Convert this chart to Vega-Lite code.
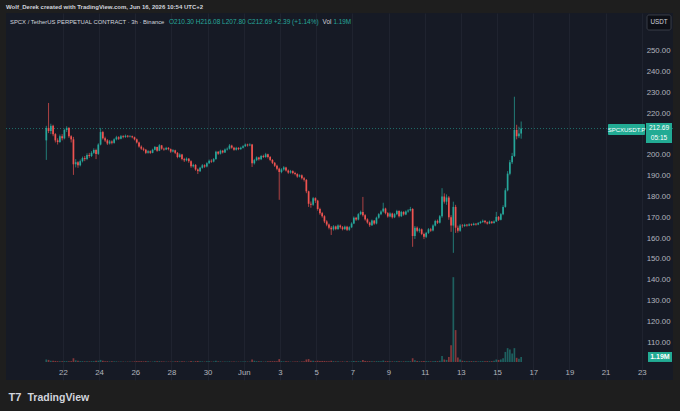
{
  "$schema": "https://vega.github.io/schema/vega-lite/v6.json",
  "autosize": {"type": "none"},
  "width": 667,
  "height": 367,
  "padding": {"left": 6, "top": 13, "right": 7, "bottom": 31},
  "background": "#1e1e1e",
  "config": {
    "view": {"fill": "#161a25", "stroke": null},
    "font": "Liberation Sans",
    "axis": {"grid": true, "gridColor": "#232734", "domain": false, "ticks": false, "tickSize": 0, "labelColor": "#b2b5be", "labelFontSize": 7.8, "labelFlush": false, "labelOverlap": false},
    "axisX": {"labelPadding": -8, "labelBaseline": "middle", "gridColor": "#1f232f"},
    "axisY": {"labelAlign": "right", "labelPadding": -3, "labelBaseline": "middle"}
  },
  "title": {"text": "Wolf_Derek created with TradingView.com, Jun 16, 2026 10:54 UTC+2", "anchor": "start", "frame": "group", "fontSize": 6, "fontWeight": "bold", "color": "#d1d4dc", "offset": 3},
  "data": {"values": [
    {"t":"2026-05-21T02:00Z","o":207,"h":214,"l":197.6,"c":213,"v":0.6},
    {"t":"2026-05-21T05:00Z","o":213,"h":225,"l":210.5,"c":211.5,"v":0.5},
    {"t":"2026-05-21T08:00Z","o":211.5,"h":215,"l":210,"c":214,"v":0.3},
    {"t":"2026-05-21T11:00Z","o":214,"h":214.5,"l":209,"c":210,"v":0.3},
    {"t":"2026-05-21T14:00Z","o":210,"h":210.5,"l":206,"c":207,"v":0.25},
    {"t":"2026-05-21T17:00Z","o":207,"h":208,"l":205,"c":206.2,"v":0.2},
    {"t":"2026-05-21T20:00Z","o":206.2,"h":209.8,"l":205.8,"c":209,"v":0.2},
    {"t":"2026-05-21T23:00Z","o":209,"h":210,"l":207,"c":208,"v":0.15},
    {"t":"2026-05-22T02:00Z","o":208,"h":212.6,"l":207.5,"c":212,"v":0.2},
    {"t":"2026-05-22T05:00Z","o":212,"h":213.8,"l":211,"c":213,"v":0.2},
    {"t":"2026-05-22T08:00Z","o":213,"h":213.4,"l":208.2,"c":209,"v":0.2},
    {"t":"2026-05-22T11:00Z","o":209,"h":209.5,"l":206,"c":207.5,"v":0.2},
    {"t":"2026-05-22T14:00Z","o":207.5,"h":208.7,"l":190.4,"c":195.5,"v":0.9},
    {"t":"2026-05-22T17:00Z","o":195.5,"h":198,"l":194,"c":196.5,"v":0.4},
    {"t":"2026-05-22T20:00Z","o":196.5,"h":197,"l":193.8,"c":195,"v":0.3},
    {"t":"2026-05-22T23:00Z","o":195,"h":197.8,"l":194.5,"c":197,"v":0.2},
    {"t":"2026-05-23T02:00Z","o":197,"h":199.2,"l":196.4,"c":198.5,"v":0.2},
    {"t":"2026-05-23T05:00Z","o":198.5,"h":199.5,"l":197,"c":198,"v":0.15},
    {"t":"2026-05-23T08:00Z","o":198,"h":200.8,"l":197.5,"c":200,"v":0.15},
    {"t":"2026-05-23T11:00Z","o":200,"h":201,"l":198.6,"c":199.5,"v":0.15},
    {"t":"2026-05-23T14:00Z","o":199.5,"h":201.8,"l":199,"c":201,"v":0.2},
    {"t":"2026-05-23T17:00Z","o":201,"h":203.2,"l":200.5,"c":202.4,"v":0.2},
    {"t":"2026-05-23T20:00Z","o":202.4,"h":203,"l":198,"c":200.5,"v":0.3},
    {"t":"2026-05-23T23:00Z","o":200.5,"h":205.6,"l":200,"c":205,"v":0.3},
    {"t":"2026-05-24T02:00Z","o":205,"h":213,"l":204.6,"c":211,"v":0.5},
    {"t":"2026-05-24T05:00Z","o":211,"h":211.6,"l":207.4,"c":208,"v":0.3},
    {"t":"2026-05-24T08:00Z","o":208,"h":208.8,"l":206.2,"c":207,"v":0.2},
    {"t":"2026-05-24T11:00Z","o":207,"h":207.6,"l":204.8,"c":205.5,"v":0.2},
    {"t":"2026-05-24T14:00Z","o":205.5,"h":207.2,"l":205,"c":206.5,"v":0.15},
    {"t":"2026-05-24T17:00Z","o":206.5,"h":207,"l":205.1,"c":205.8,"v":0.15},
    {"t":"2026-05-24T20:00Z","o":205.8,"h":208,"l":205.4,"c":207.5,"v":0.15},
    {"t":"2026-05-24T23:00Z","o":207.5,"h":209.2,"l":207,"c":208.5,"v":0.15},
    {"t":"2026-05-25T02:00Z","o":208.5,"h":209,"l":207.2,"c":207.8,"v":0.1},
    {"t":"2026-05-25T05:00Z","o":207.8,"h":209.6,"l":207.5,"c":209,"v":0.1},
    {"t":"2026-05-25T08:00Z","o":209,"h":209.5,"l":208,"c":208.6,"v":0.1},
    {"t":"2026-05-25T11:00Z","o":208.6,"h":209.8,"l":208.2,"c":209.2,"v":0.1},
    {"t":"2026-05-25T14:00Z","o":209.2,"h":209.6,"l":208.3,"c":208.8,"v":0.1},
    {"t":"2026-05-25T17:00Z","o":208.8,"h":209.5,"l":208.4,"c":209,"v":0.1},
    {"t":"2026-05-25T20:00Z","o":209,"h":209.3,"l":208,"c":208.5,"v":0.1},
    {"t":"2026-05-25T23:00Z","o":208.5,"h":208.8,"l":207,"c":207.5,"v":0.15},
    {"t":"2026-05-26T02:00Z","o":207.5,"h":207.9,"l":205.5,"c":206,"v":0.2},
    {"t":"2026-05-26T05:00Z","o":206,"h":206.4,"l":203.5,"c":204,"v":0.2},
    {"t":"2026-05-26T08:00Z","o":204,"h":204.6,"l":202.4,"c":203,"v":0.2},
    {"t":"2026-05-26T11:00Z","o":203,"h":203.6,"l":201.8,"c":202.5,"v":0.15},
    {"t":"2026-05-26T14:00Z","o":202.5,"h":202.9,"l":200.4,"c":201,"v":0.2},
    {"t":"2026-05-26T17:00Z","o":201,"h":202.3,"l":200.6,"c":201.8,"v":0.15},
    {"t":"2026-05-26T20:00Z","o":201.8,"h":202.2,"l":200.5,"c":201,"v":0.1},
    {"t":"2026-05-26T23:00Z","o":201,"h":203,"l":200.8,"c":202.5,"v":0.1},
    {"t":"2026-05-27T02:00Z","o":202.5,"h":204.3,"l":202.2,"c":203.8,"v":0.15},
    {"t":"2026-05-27T05:00Z","o":203.8,"h":204,"l":201.5,"c":202,"v":0.15},
    {"t":"2026-05-27T08:00Z","o":202,"h":205.2,"l":201.8,"c":204.6,"v":0.2},
    {"t":"2026-05-27T11:00Z","o":204.6,"h":204.8,"l":202.5,"c":203,"v":0.15},
    {"t":"2026-05-27T14:00Z","o":203,"h":203.5,"l":202,"c":202.6,"v":0.1},
    {"t":"2026-05-27T17:00Z","o":202.6,"h":203.9,"l":202.3,"c":203.4,"v":0.1},
    {"t":"2026-05-27T20:00Z","o":203.4,"h":203.8,"l":202.2,"c":202.8,"v":0.1},
    {"t":"2026-05-27T23:00Z","o":202.8,"h":203.1,"l":201,"c":201.6,"v":0.1},
    {"t":"2026-05-28T02:00Z","o":201.6,"h":202.8,"l":201.2,"c":202.2,"v":0.1},
    {"t":"2026-05-28T05:00Z","o":202.2,"h":202.5,"l":200.4,"c":201,"v":0.15},
    {"t":"2026-05-28T08:00Z","o":201,"h":201.4,"l":198.4,"c":199,"v":0.2},
    {"t":"2026-05-28T11:00Z","o":199,"h":200.8,"l":198.6,"c":200.2,"v":0.15},
    {"t":"2026-05-28T14:00Z","o":200.2,"h":200.5,"l":197.4,"c":198,"v":0.2},
    {"t":"2026-05-28T17:00Z","o":198,"h":198.6,"l":196.6,"c":197.4,"v":0.15},
    {"t":"2026-05-28T20:00Z","o":197.4,"h":198.8,"l":196.9,"c":198.2,"v":0.1},
    {"t":"2026-05-28T23:00Z","o":198.2,"h":198.5,"l":196.2,"c":197,"v":0.1},
    {"t":"2026-05-29T02:00Z","o":197,"h":197.4,"l":193.8,"c":194.5,"v":0.25},
    {"t":"2026-05-29T05:00Z","o":194.5,"h":195.8,"l":193.9,"c":195.2,"v":0.15},
    {"t":"2026-05-29T08:00Z","o":195.2,"h":195.6,"l":192.4,"c":193,"v":0.2},
    {"t":"2026-05-29T11:00Z","o":193,"h":193.5,"l":190.8,"c":192.2,"v":0.25},
    {"t":"2026-05-29T14:00Z","o":192.2,"h":194.3,"l":191.8,"c":193.8,"v":0.2},
    {"t":"2026-05-29T17:00Z","o":193.8,"h":195.6,"l":193.4,"c":195,"v":0.15},
    {"t":"2026-05-29T20:00Z","o":195,"h":195.5,"l":193.8,"c":194.4,"v":0.1},
    {"t":"2026-05-29T23:00Z","o":194.4,"h":196.5,"l":194,"c":196,"v":0.15},
    {"t":"2026-05-30T02:00Z","o":196,"h":197.8,"l":195.6,"c":197.2,"v":0.15},
    {"t":"2026-05-30T05:00Z","o":197.2,"h":197.9,"l":196.2,"c":196.8,"v":0.1},
    {"t":"2026-05-30T08:00Z","o":196.8,"h":198.5,"l":196.4,"c":198,"v":0.15},
    {"t":"2026-05-30T11:00Z","o":198,"h":202,"l":197.6,"c":201.5,"v":0.3},
    {"t":"2026-05-30T14:00Z","o":201.5,"h":201.9,"l":200,"c":200.6,"v":0.15},
    {"t":"2026-05-30T17:00Z","o":200.6,"h":202.5,"l":200.2,"c":202,"v":0.15},
    {"t":"2026-05-30T20:00Z","o":202,"h":202.4,"l":200.7,"c":201.2,"v":0.1},
    {"t":"2026-05-30T23:00Z","o":201.2,"h":203.1,"l":200.9,"c":202.6,"v":0.1},
    {"t":"2026-05-31T02:00Z","o":202.6,"h":203.6,"l":202.1,"c":203,"v":0.1},
    {"t":"2026-05-31T05:00Z","o":203,"h":205.2,"l":202.6,"c":204.5,"v":0.15},
    {"t":"2026-05-31T08:00Z","o":204.5,"h":204.9,"l":203,"c":203.5,"v":0.1},
    {"t":"2026-05-31T11:00Z","o":203.5,"h":203.9,"l":202,"c":202.5,"v":0.1},
    {"t":"2026-05-31T14:00Z","o":202.5,"h":203.9,"l":202.1,"c":203.4,"v":0.1},
    {"t":"2026-05-31T17:00Z","o":203.4,"h":203.7,"l":202.3,"c":202.8,"v":0.1},
    {"t":"2026-05-31T20:00Z","o":202.8,"h":204,"l":202.4,"c":203.5,"v":0.1},
    {"t":"2026-05-31T23:00Z","o":203.5,"h":204.7,"l":203.1,"c":204.2,"v":0.1},
    {"t":"2026-06-01T02:00Z","o":204.2,"h":205.5,"l":203.8,"c":205,"v":0.15},
    {"t":"2026-06-01T05:00Z","o":205,"h":205.4,"l":204,"c":204.6,"v":0.1},
    {"t":"2026-06-01T08:00Z","o":204.6,"h":205.6,"l":204.2,"c":205,"v":0.1},
    {"t":"2026-06-01T11:00Z","o":205,"h":205.3,"l":194.2,"c":196,"v":0.6},
    {"t":"2026-06-01T14:00Z","o":196,"h":198.1,"l":195.4,"c":197.5,"v":0.3},
    {"t":"2026-06-01T17:00Z","o":197.5,"h":199.3,"l":197,"c":198.8,"v":0.2},
    {"t":"2026-06-01T20:00Z","o":198.8,"h":199.1,"l":197.3,"c":197.9,"v":0.15},
    {"t":"2026-06-01T23:00Z","o":197.9,"h":200,"l":197.5,"c":199.5,"v":0.15},
    {"t":"2026-06-02T02:00Z","o":199.5,"h":200.1,"l":198.5,"c":199,"v":0.1},
    {"t":"2026-06-02T05:00Z","o":199,"h":201,"l":198.6,"c":200.3,"v":0.15},
    {"t":"2026-06-02T08:00Z","o":200.3,"h":200.6,"l":198.3,"c":199,"v":0.15},
    {"t":"2026-06-02T11:00Z","o":199,"h":199.5,"l":197,"c":197.6,"v":0.2},
    {"t":"2026-06-02T14:00Z","o":197.6,"h":198,"l":195.6,"c":196.2,"v":0.2},
    {"t":"2026-06-02T17:00Z","o":196.2,"h":196.6,"l":194.2,"c":194.8,"v":0.2},
    {"t":"2026-06-02T20:00Z","o":194.8,"h":195.3,"l":192.6,"c":193.4,"v":0.2},
    {"t":"2026-06-02T23:00Z","o":193.4,"h":193.9,"l":178.4,"c":191.8,"v":0.7},
    {"t":"2026-06-03T02:00Z","o":191.8,"h":193.6,"l":191.2,"c":193,"v":0.2},
    {"t":"2026-06-03T05:00Z","o":193,"h":194.6,"l":192.4,"c":194,"v":0.15},
    {"t":"2026-06-03T08:00Z","o":194,"h":194.3,"l":192,"c":192.5,"v":0.15},
    {"t":"2026-06-03T11:00Z","o":192.5,"h":193,"l":190.9,"c":191.5,"v":0.15},
    {"t":"2026-06-03T14:00Z","o":191.5,"h":192.8,"l":191,"c":192.2,"v":0.1},
    {"t":"2026-06-03T17:00Z","o":192.2,"h":192.6,"l":190.7,"c":191.3,"v":0.1},
    {"t":"2026-06-03T20:00Z","o":191.3,"h":191.9,"l":190.2,"c":190.8,"v":0.1},
    {"t":"2026-06-03T23:00Z","o":190.8,"h":191.2,"l":189,"c":189.6,"v":0.15},
    {"t":"2026-06-04T02:00Z","o":189.6,"h":190.7,"l":189.2,"c":190.2,"v":0.1},
    {"t":"2026-06-04T05:00Z","o":190.2,"h":190.6,"l":188.2,"c":188.8,"v":0.15},
    {"t":"2026-06-04T08:00Z","o":188.8,"h":189.4,"l":187.2,"c":188,"v":0.2},
    {"t":"2026-06-04T11:00Z","o":188,"h":188.4,"l":181.6,"c":182.5,"v":0.6},
    {"t":"2026-06-04T14:00Z","o":182.5,"h":182.8,"l":175,"c":176.5,"v":0.7},
    {"t":"2026-06-04T17:00Z","o":176.5,"h":177.6,"l":174.6,"c":176,"v":0.3},
    {"t":"2026-06-04T20:00Z","o":176,"h":179.8,"l":175.5,"c":179.2,"v":0.3},
    {"t":"2026-06-04T23:00Z","o":179.2,"h":179.6,"l":176.9,"c":178,"v":0.2},
    {"t":"2026-06-05T02:00Z","o":178,"h":178.4,"l":173.2,"c":174,"v":0.3},
    {"t":"2026-06-05T05:00Z","o":174,"h":174.6,"l":171.2,"c":172,"v":0.25},
    {"t":"2026-06-05T08:00Z","o":172,"h":172.6,"l":169.8,"c":170.5,"v":0.25},
    {"t":"2026-06-05T11:00Z","o":170.5,"h":171,"l":167.2,"c":168,"v":0.25},
    {"t":"2026-06-05T14:00Z","o":168,"h":168.6,"l":165.7,"c":166.5,"v":0.2},
    {"t":"2026-06-05T17:00Z","o":166.5,"h":167,"l":164.2,"c":165,"v":0.2},
    {"t":"2026-06-05T20:00Z","o":165,"h":165.8,"l":161.5,"c":164.2,"v":0.3},
    {"t":"2026-06-05T23:00Z","o":164.2,"h":166.2,"l":163.6,"c":165.6,"v":0.2},
    {"t":"2026-06-06T02:00Z","o":165.6,"h":166,"l":163.8,"c":164.4,"v":0.15},
    {"t":"2026-06-06T05:00Z","o":164.4,"h":166.6,"l":163.9,"c":166,"v":0.15},
    {"t":"2026-06-06T08:00Z","o":166,"h":166.5,"l":164.5,"c":165.2,"v":0.1},
    {"t":"2026-06-06T11:00Z","o":165.2,"h":165.8,"l":163.7,"c":164.3,"v":0.15},
    {"t":"2026-06-06T14:00Z","o":164.3,"h":166,"l":163.9,"c":165.5,"v":0.1},
    {"t":"2026-06-06T17:00Z","o":165.5,"h":165.9,"l":163.4,"c":164,"v":0.15},
    {"t":"2026-06-06T20:00Z","o":164,"h":165.7,"l":163.5,"c":165.2,"v":0.1},
    {"t":"2026-06-06T23:00Z","o":165.2,"h":167.6,"l":164.8,"c":167,"v":0.15},
    {"t":"2026-06-07T02:00Z","o":167,"h":170.4,"l":166.7,"c":169.8,"v":0.25},
    {"t":"2026-06-07T05:00Z","o":169.8,"h":170.2,"l":168.3,"c":168.9,"v":0.15},
    {"t":"2026-06-07T08:00Z","o":168.9,"h":172,"l":168.5,"c":171.5,"v":0.2},
    {"t":"2026-06-07T11:00Z","o":171.5,"h":173.2,"l":171,"c":172.6,"v":0.2},
    {"t":"2026-06-07T14:00Z","o":172.6,"h":179.8,"l":170.3,"c":171,"v":0.5},
    {"t":"2026-06-07T17:00Z","o":171,"h":171.5,"l":168.4,"c":169,"v":0.25},
    {"t":"2026-06-07T20:00Z","o":169,"h":169.5,"l":166.9,"c":167.5,"v":0.2},
    {"t":"2026-06-07T23:00Z","o":167.5,"h":167.9,"l":165.4,"c":166.2,"v":0.2},
    {"t":"2026-06-08T02:00Z","o":166.2,"h":168.9,"l":165.8,"c":168.4,"v":0.2},
    {"t":"2026-06-08T05:00Z","o":168.4,"h":168.7,"l":166.4,"c":167,"v":0.15},
    {"t":"2026-06-08T08:00Z","o":167,"h":170.3,"l":166.6,"c":169.8,"v":0.2},
    {"t":"2026-06-08T11:00Z","o":169.8,"h":172,"l":169.3,"c":171.5,"v":0.2},
    {"t":"2026-06-08T14:00Z","o":171.5,"h":173.4,"l":171,"c":172.8,"v":0.2},
    {"t":"2026-06-08T17:00Z","o":172.8,"h":177,"l":172.3,"c":174.2,"v":0.35},
    {"t":"2026-06-08T20:00Z","o":174.2,"h":174.6,"l":171.4,"c":172,"v":0.2},
    {"t":"2026-06-08T23:00Z","o":172,"h":172.5,"l":169.8,"c":170.4,"v":0.2},
    {"t":"2026-06-09T02:00Z","o":170.4,"h":172.4,"l":170,"c":171.8,"v":0.15},
    {"t":"2026-06-09T05:00Z","o":171.8,"h":172.2,"l":169.4,"c":170,"v":0.15},
    {"t":"2026-06-09T08:00Z","o":170,"h":172,"l":169.6,"c":171.5,"v":0.15},
    {"t":"2026-06-09T11:00Z","o":171.5,"h":173.6,"l":171,"c":173,"v":0.2},
    {"t":"2026-06-09T14:00Z","o":173,"h":173.4,"l":169.9,"c":170.5,"v":0.2},
    {"t":"2026-06-09T17:00Z","o":170.5,"h":173.1,"l":170.1,"c":172.6,"v":0.15},
    {"t":"2026-06-09T20:00Z","o":172.6,"h":172.9,"l":170.8,"c":171.4,"v":0.15},
    {"t":"2026-06-09T23:00Z","o":171.4,"h":173.3,"l":171,"c":172.8,"v":0.15},
    {"t":"2026-06-10T02:00Z","o":172.8,"h":173.9,"l":172.2,"c":173.3,"v":0.15},
    {"t":"2026-06-10T05:00Z","o":173.3,"h":175,"l":172.8,"c":174,"v":0.2},
    {"t":"2026-06-10T08:00Z","o":174,"h":174.4,"l":155.8,"c":161,"v":0.9},
    {"t":"2026-06-10T11:00Z","o":161,"h":165.8,"l":159.6,"c":165,"v":0.4},
    {"t":"2026-06-10T14:00Z","o":165,"h":165.6,"l":162.8,"c":163.5,"v":0.25},
    {"t":"2026-06-10T17:00Z","o":163.5,"h":164.9,"l":162.6,"c":164.2,"v":0.2},
    {"t":"2026-06-10T20:00Z","o":164.2,"h":164.6,"l":161.4,"c":162,"v":0.2},
    {"t":"2026-06-10T23:00Z","o":162,"h":162.6,"l":159.5,"c":160.6,"v":0.25},
    {"t":"2026-06-11T02:00Z","o":160.6,"h":163,"l":160,"c":162.5,"v":0.2},
    {"t":"2026-06-11T05:00Z","o":162.5,"h":164.8,"l":162,"c":164.2,"v":0.2},
    {"t":"2026-06-11T08:00Z","o":164.2,"h":164.9,"l":163,"c":163.6,"v":0.15},
    {"t":"2026-06-11T11:00Z","o":163.6,"h":166.6,"l":163.2,"c":166,"v":0.2},
    {"t":"2026-06-11T14:00Z","o":166,"h":168.8,"l":165.6,"c":168.2,"v":0.25},
    {"t":"2026-06-11T17:00Z","o":168.2,"h":168.9,"l":166.8,"c":167.4,"v":0.2},
    {"t":"2026-06-11T20:00Z","o":167.4,"h":171.1,"l":167,"c":170.5,"v":0.3},
    {"t":"2026-06-11T23:00Z","o":170.5,"h":184,"l":169.8,"c":180,"v":1.4},
    {"t":"2026-06-12T02:00Z","o":180,"h":181.5,"l":176.6,"c":177.5,"v":0.6},
    {"t":"2026-06-12T05:00Z","o":177.5,"h":181,"l":176,"c":179.5,"v":0.5},
    {"t":"2026-06-12T08:00Z","o":179.5,"h":180.2,"l":168.8,"c":170,"v":1.2},
    {"t":"2026-06-12T11:00Z","o":170,"h":171,"l":163,"c":166,"v":4.0},
    {"t":"2026-06-12T14:00Z","o":166,"h":177.5,"l":152.9,"c":175,"v":20.2},
    {"t":"2026-06-12T17:00Z","o":175,"h":176,"l":162.5,"c":165,"v":7.6},
    {"t":"2026-06-12T20:00Z","o":165,"h":166,"l":162.6,"c":163.5,"v":1.1},
    {"t":"2026-06-12T23:00Z","o":163.5,"h":166.8,"l":163,"c":166,"v":0.6},
    {"t":"2026-06-13T02:00Z","o":166,"h":166.7,"l":165,"c":165.8,"v":0.3},
    {"t":"2026-06-13T05:00Z","o":165.8,"h":166.9,"l":165.3,"c":166.4,"v":0.25},
    {"t":"2026-06-13T08:00Z","o":166.4,"h":166.8,"l":165.5,"c":166,"v":0.2},
    {"t":"2026-06-13T11:00Z","o":166,"h":167.1,"l":165.7,"c":166.6,"v":0.2},
    {"t":"2026-06-13T14:00Z","o":166.6,"h":167,"l":165.8,"c":166.3,"v":0.2},
    {"t":"2026-06-13T17:00Z","o":166.3,"h":167.4,"l":166,"c":166.9,"v":0.2},
    {"t":"2026-06-13T20:00Z","o":166.9,"h":167.2,"l":166,"c":166.5,"v":0.15},
    {"t":"2026-06-13T23:00Z","o":166.5,"h":167.7,"l":166.2,"c":167.2,"v":0.15},
    {"t":"2026-06-14T02:00Z","o":167.2,"h":168.3,"l":166.9,"c":167.8,"v":0.2},
    {"t":"2026-06-14T05:00Z","o":167.8,"h":168.9,"l":167.3,"c":168.3,"v":0.2},
    {"t":"2026-06-14T08:00Z","o":168.3,"h":168.6,"l":167,"c":167.6,"v":0.15},
    {"t":"2026-06-14T11:00Z","o":167.6,"h":168,"l":166.5,"c":167,"v":0.2},
    {"t":"2026-06-14T14:00Z","o":167,"h":168.4,"l":166.7,"c":167.9,"v":0.2},
    {"t":"2026-06-14T17:00Z","o":167.9,"h":168.2,"l":166.8,"c":167.3,"v":0.2},
    {"t":"2026-06-14T20:00Z","o":167.3,"h":168.5,"l":166.9,"c":168,"v":0.3},
    {"t":"2026-06-14T23:00Z","o":168,"h":172.6,"l":167.7,"c":170.2,"v":0.6},
    {"t":"2026-06-15T02:00Z","o":170.2,"h":170.6,"l":168.2,"c":168.8,"v":0.5},
    {"t":"2026-06-15T05:00Z","o":168.8,"h":172.1,"l":168.5,"c":171.5,"v":0.6},
    {"t":"2026-06-15T08:00Z","o":171.5,"h":175.8,"l":171,"c":175,"v":0.9},
    {"t":"2026-06-15T11:00Z","o":175,"h":184,"l":174.6,"c":183,"v":2.4},
    {"t":"2026-06-15T14:00Z","o":183,"h":192.2,"l":182.5,"c":191,"v":3.3},
    {"t":"2026-06-15T17:00Z","o":191,"h":197.6,"l":190.2,"c":196.5,"v":3.0},
    {"t":"2026-06-15T20:00Z","o":196.5,"h":201,"l":195.6,"c":199.5,"v":2.0},
    {"t":"2026-06-15T23:00Z","o":199.5,"h":228,"l":199,"c":212,"v":3.3},
    {"t":"2026-06-16T02:00Z","o":212,"h":214.5,"l":207.5,"c":209,"v":1.0},
    {"t":"2026-06-16T05:00Z","o":209,"h":213.6,"l":208.1,"c":210.3,"v":0.8},
    {"t":"2026-06-16T08:00Z","o":210.3,"h":216.08,"l":207.8,"c":212.69,"v":1.19}
  ]},
  "layer": [
    {
      "mark": {"type": "bar", "width": 1.7, "opacity": 0.5},
      "encoding": {
        "x": {
          "field": "t", "type": "temporal",
          "scale": {"type": "utc", "domain": [1779136260000, 1782321900000], "padding": 0},
          "axis": {
            "values": [1779408000000, 1779580800000, 1779753600000, 1779926400000, 1780099200000, 1780272000000, 1780444800000, 1780617600000, 1780790400000, 1780963200000, 1781136000000, 1781308800000, 1781481600000, 1781654400000, 1781827200000, 1782000000000, 1782172800000],
            "labelExpr": "utcdate(datum.value) == 1 ? 'Jun' : '' + utcdate(datum.value)",
            "title": "TradingView", "titleX": 21, "titleY": 17, "titleAlign": "left", "titleBaseline": "middle",
            "titleAngle": 0, "titleFontSize": 10.5, "titleFontWeight": 600, "titleColor": "#d1d4dc"
          }
        },
        "y": {"field": "v", "type": "quantitative", "scale": {"domain": [-4.286, 83.1], "nice": false, "zero": false}, "axis": null},
        "y2": {"datum": 0},
        "color": {"condition": {"test": "datum.c >= datum.o", "value": "#26a69a"}, "value": "#ef5350"}
      }
    },
    {
      "data": {"values": [{"p": 212.69}]},
      "mark": {"type": "rule", "strokeDash": [1, 2], "color": "#26a69a", "opacity": 0.6},
      "encoding": {
        "y": {"field": "p", "type": "quantitative", "scale": {"domain": [91.72, 268.28], "nice": false, "zero": false}, "axis": null}
      }
    },
    {
      "mark": {"type": "rule", "strokeWidth": 0.7},
      "encoding": {
        "x": {"field": "t", "type": "temporal"},
        "y": {"field": "l", "type": "quantitative", "scale": {"domain": [91.72, 268.28], "nice": false, "zero": false}, "axis": null},
        "y2": {"field": "h"},
        "color": {"condition": {"test": "datum.c >= datum.o", "value": "#26a69a"}, "value": "#ef5350"}
      }
    },
    {
      "mark": {"type": "bar", "width": 1.7},
      "encoding": {
        "x": {"field": "t", "type": "temporal"},
        "y": {
          "field": "o", "type": "quantitative",
          "scale": {"domain": [91.72, 268.28], "nice": false, "zero": false},
          "axis": {
            "orient": "right",
            "values": [100, 110, 120, 130, 140, 150, 160, 170, 180, 190, 200, 210, 220, 230, 240, 250, 260],
            "labelExpr": "datum.value >= 110 && datum.value <= 250 && datum.value != 210 ? format(datum.value, '.2f') : ''",
            "title": "T7", "titleX": -665, "titleY": 384, "titleAngle": 0, "titleAlign": "left",
            "titleBaseline": "middle", "titleFontSize": 11, "titleFontWeight": 900, "titleColor": "#d1d4dc"
          }
        },
        "y2": {"field": "c"},
        "color": {"condition": {"test": "datum.c >= datum.o", "value": "#26a69a"}, "value": "#ef5350"}
      }
    },
    {
      "data": {"values": [{"label": "SPCX / TetherUS PERPETUAL CONTRACT · 3h · Binance"}]},
      "mark": {"type": "text", "align": "left", "baseline": "middle", "fontSize": 5.9, "color": "#d1d4dc"},
      "encoding": {
        "x": {"datum": {"year": 2026, "month": 5, "date": 19, "hours": 1, "minutes": 49, "utc": true}, "type": "temporal"},
        "y": {"datum": 263.71, "type": "quantitative", "scale": {"domain": [91.72, 268.28], "nice": false, "zero": false}, "axis": null},
        "text": {"field": "label"}
      }
    },
    {
      "data": {"values": [{"label": "O210.30 H216.08 L207.80 C212.69 +2.39 (+1.14%)"}]},
      "mark": {"type": "text", "align": "left", "baseline": "middle", "fontSize": 6.5, "color": "#26a69a"},
      "encoding": {
        "x": {"datum": {"year": 2026, "month": 5, "date": 27, "hours": 20, "minutes": 46, "utc": true}, "type": "temporal"},
        "y": {"datum": 263.71, "type": "quantitative", "scale": {"domain": [91.72, 268.28], "nice": false, "zero": false}, "axis": null},
        "text": {"field": "label"}
      }
    },
    {
      "data": {"values": [{"label": "Vol"}]},
      "mark": {"type": "text", "align": "left", "baseline": "middle", "fontSize": 6.3, "color": "#d1d4dc"},
      "encoding": {
        "x": {"datum": {"year": 2026, "month": 6, "date": 5, "hours": 8, "minutes": 30, "utc": true}, "type": "temporal"},
        "y": {"datum": 263.71, "type": "quantitative", "scale": {"domain": [91.72, 268.28], "nice": false, "zero": false}, "axis": null},
        "text": {"field": "label"}
      }
    },
    {
      "data": {"values": [{"label": "1.19M"}]},
      "mark": {"type": "text", "align": "left", "baseline": "middle", "fontSize": 6.3, "color": "#26a69a"},
      "encoding": {
        "x": {"datum": {"year": 2026, "month": 6, "date": 5, "hours": 23, "minutes": 0, "utc": true}, "type": "temporal"},
        "y": {"datum": 263.71, "type": "quantitative", "scale": {"domain": [91.72, 268.28], "nice": false, "zero": false}, "axis": null},
        "text": {"field": "label"}
      }
    },
    {
      "data": {"values": [{"label": "USDT"}]},
      "mark": {"type": "rect", "fill": "#0d0f16", "stroke": "#434651", "strokeWidth": 0.8, "cornerRadius": 2},
      "encoding": {
        "x": {"datum": {"year": 2026, "month": 6, "date": 23, "hours": 6, "minutes": 58, "utc": true}, "type": "temporal"},
        "x2": {"datum": {"year": 2026, "month": 6, "date": 24, "hours": 14, "minutes": 46, "utc": true}},
        "y": {"datum": 267.32, "type": "quantitative", "scale": {"domain": [91.72, 268.28], "nice": false, "zero": false}, "axis": null},
        "y2": {"datum": 260.1}
      }
    },
    {
      "data": {"values": [{"label": "USDT"}]},
      "mark": {"type": "text", "align": "center", "baseline": "middle", "fontSize": 6.3, "color": "#d1d4dc"},
      "encoding": {
        "x": {"datum": {"year": 2026, "month": 6, "date": 23, "hours": 22, "minutes": 48, "utc": true}, "type": "temporal"},
        "y": {"datum": 263.71, "type": "quantitative", "scale": {"domain": [91.72, 268.28], "nice": false, "zero": false}, "axis": null},
        "text": {"field": "label"}
      }
    },
    {
      "data": {"values": [{"label": "SPCXUSDT.P"}]},
      "mark": {"type": "rect", "fill": "#22ab94", "cornerRadius": 1},
      "encoding": {
        "x": {"datum": {"year": 2026, "month": 6, "date": 21, "hours": 3, "minutes": 11, "utc": true}, "type": "temporal"},
        "x2": {"datum": {"year": 2026, "month": 6, "date": 23, "hours": 4, "minutes": 16, "utc": true}},
        "y": {"datum": 214.88, "type": "quantitative", "scale": {"domain": [91.72, 268.28], "nice": false, "zero": false}, "axis": null},
        "y2": {"datum": 209.59}
      }
    },
    {
      "data": {"values": [{"label": "SPCXUSDT.P"}]},
      "mark": {"type": "text", "align": "center", "baseline": "middle", "fontSize": 6, "color": "#ffffff"},
      "encoding": {
        "x": {"datum": {"year": 2026, "month": 6, "date": 22, "hours": 3, "minutes": 43, "utc": true}, "type": "temporal"},
        "y": {"datum": 212.23, "type": "quantitative", "scale": {"domain": [91.72, 268.28], "nice": false, "zero": false}, "axis": null},
        "text": {"field": "label"}
      }
    },
    {
      "data": {"values": [{"label": "212.69"}]},
      "mark": {"type": "rect", "fill": "#22ab94"},
      "encoding": {
        "x": {"datum": {"year": 2026, "month": 6, "date": 23, "hours": 5, "minutes": 35, "utc": true}, "type": "temporal"},
        "x2": {"datum": {"year": 2026, "month": 6, "date": 24, "hours": 16, "minutes": 5, "utc": true}},
        "y": {"datum": 215.36, "type": "quantitative", "scale": {"domain": [91.72, 268.28], "nice": false, "zero": false}, "axis": null},
        "y2": {"datum": 205.74}
      }
    },
    {
      "data": {"values": [{"label": "212.69"}]},
      "mark": {"type": "text", "align": "center", "baseline": "middle", "fontSize": 6.6, "color": "#ffffff"},
      "encoding": {
        "x": {"datum": {"year": 2026, "month": 6, "date": 23, "hours": 22, "minutes": 48, "utc": true}, "type": "temporal"},
        "y": {"datum": 212.96, "type": "quantitative", "scale": {"domain": [91.72, 268.28], "nice": false, "zero": false}, "axis": null},
        "text": {"field": "label"}
      }
    },
    {
      "data": {"values": [{"label": "05:15"}]},
      "mark": {"type": "text", "align": "center", "baseline": "middle", "fontSize": 6.6, "color": "#ffffff"},
      "encoding": {
        "x": {"datum": {"year": 2026, "month": 6, "date": 23, "hours": 22, "minutes": 48, "utc": true}, "type": "temporal"},
        "y": {"datum": 208.15, "type": "quantitative", "scale": {"domain": [91.72, 268.28], "nice": false, "zero": false}, "axis": null},
        "text": {"field": "label"}
      }
    },
    {
      "data": {"values": [{"label": "1.19M"}]},
      "mark": {"type": "rect", "fill": "#22ab94"},
      "encoding": {
        "x": {"datum": {"year": 2026, "month": 6, "date": 23, "hours": 8, "minutes": 15, "utc": true}, "type": "temporal"},
        "x2": {"datum": {"year": 2026, "month": 6, "date": 24, "hours": 16, "minutes": 5, "utc": true}},
        "y": {"datum": 105.2, "type": "quantitative", "scale": {"domain": [91.72, 268.28], "nice": false, "zero": false}, "axis": null},
        "y2": {"datum": 100.4}
      }
    },
    {
      "data": {"values": [{"label": "1.19M"}]},
      "mark": {"type": "text", "align": "center", "baseline": "middle", "fontSize": 7, "fontWeight": "bold", "color": "#ffffff"},
      "encoding": {
        "x": {"datum": {"year": 2026, "month": 6, "date": 24, "hours": 0, "minutes": 7, "utc": true}, "type": "temporal"},
        "y": {"datum": 102.79, "type": "quantitative", "scale": {"domain": [91.72, 268.28], "nice": false, "zero": false}, "axis": null},
        "text": {"field": "label"}
      }
    }
  ],
  "resolve": {"scale": {"y": "independent"}}
}
